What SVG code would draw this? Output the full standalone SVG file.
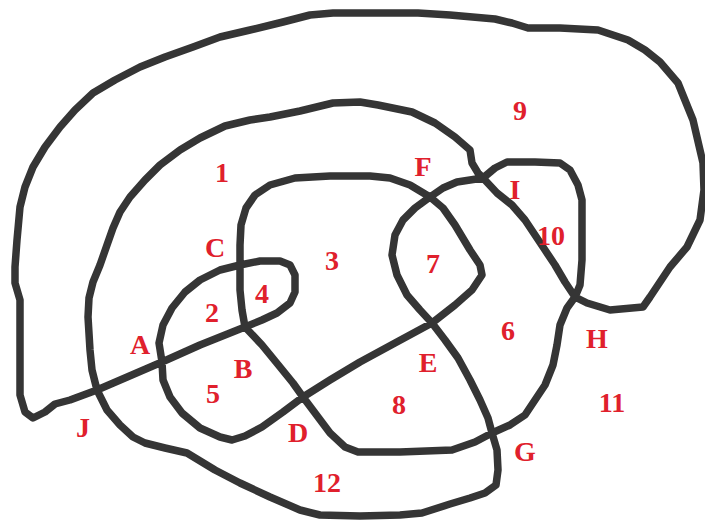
<svg xmlns="http://www.w3.org/2000/svg" width="705" height="523" viewBox="0 0 705 523">
<style>
.curve{fill:none;stroke:#353535;stroke-width:7.5;stroke-linejoin:round;stroke-linecap:round}
.lbl{font-family:"Liberation Serif","Times New Roman",serif;font-weight:bold;font-size:28px;fill:#e0202c;text-anchor:middle;dominant-baseline:central}
</style>
<rect width="705" height="523" fill="#ffffff"/>
<g id="connectors">
<polygon class="curve" points="20,300 20,395 25,412 33,418 45,412 55,404 70,400 97,390 162,362 200,345 245,327 262,320 277,313 290,303 295,292 295,275 290,265 280,261 260,261 240,265 220,270 200,280 185,292 172,308 163,325 159,343 162,362 163,380 170,397 182,413 200,428 220,437 232,440 245,436 262,427 283,412 303,397 330,380 360,362 395,343 432,323 455,305 472,290 482,275 480,265 470,250 455,225 443,208 430,197 410,185 390,178 370,176 330,176 295,178 270,185 255,195 246,208 241,225 240,245 240,265 240,290 242,310 245,327 262,345 280,367 293,383 303,397 315,413 330,433 345,447 358,452 400,452 452,450 475,442 492,433 510,425 525,415 535,400 545,385 553,365 557,345 560,325 567,308 575,297 580,285 582,260 582,230 582,200 578,185 570,170 560,163 535,162 507,162 495,168 483,178 470,180 457,182 443,188 430,197 415,208 403,220 395,235 392,255 397,275 407,295 420,310 432,323 445,340 458,358 470,380 480,400 488,418 492,433 497,450 498,470 496,485 485,493 470,498 450,504 422,513 400,515 360,516 320,515 300,510 270,497 240,483 215,470 187,453 165,448 145,443 133,437 120,425 107,410 97,390 92,370 90,350 88,317 89,298 93,282 100,265 107,245 113,228 120,212 130,197 145,180 160,165 180,150 200,138 225,126 250,120 270,117 300,111 333,103 360,102 378,105 412,112 435,123 455,137 470,150 472,163 478,173 483,178 497,193 512,205 525,220 535,235 545,250 555,265 565,282 575,297 587,303 610,310 643,307 650,297 670,267 687,247 700,220 704,190 703,163 693,120 678,83 660,62 645,50 628,40 598,30 560,28 528,28 512,23 495,19 450,15 418,13 380,13 333,13 310,15 283,22 250,30 220,37 193,47 165,57 140,67 115,80 93,93 75,110 60,127 45,147 33,167 25,187 20,207 17,240 15,267 15,283"/>
</g>
<g id="labels">
<g id="n1"><text class="lbl" x="222" y="172">1</text></g>
<g id="n2"><text class="lbl" x="212" y="312">2</text></g>
<g id="n3"><text class="lbl" x="332" y="260">3</text></g>
<g id="n4"><text class="lbl" x="262" y="293">4</text></g>
<g id="n5"><text class="lbl" x="213" y="393">5</text></g>
<g id="n6"><text class="lbl" x="508" y="330">6</text></g>
<g id="n7"><text class="lbl" x="433" y="263">7</text></g>
<g id="n8"><text class="lbl" x="399" y="404">8</text></g>
<g id="n9"><text class="lbl" x="520" y="110">9</text></g>
<g id="n10"><text class="lbl" x="551" y="235">10</text></g>
<g id="n11"><text class="lbl" x="612" y="402">11</text></g>
<g id="n12"><text class="lbl" x="327" y="482">12</text></g>
<g id="nA"><text class="lbl" x="140" y="344">A</text></g>
<g id="nB"><text class="lbl" x="243" y="368">B</text></g>
<g id="nC"><text class="lbl" x="215" y="247">C</text></g>
<g id="nD"><text class="lbl" x="298" y="432">D</text></g>
<g id="nE"><text class="lbl" x="428" y="362">E</text></g>
<g id="nF"><text class="lbl" x="423" y="166">F</text></g>
<g id="nG"><text class="lbl" x="525" y="451">G</text></g>
<g id="nH"><text class="lbl" x="597" y="338">H</text></g>
<g id="nI"><text class="lbl" x="515" y="189">I</text></g>
<g id="nJ"><text class="lbl" x="83" y="427">J</text></g>
</g>
</svg>
